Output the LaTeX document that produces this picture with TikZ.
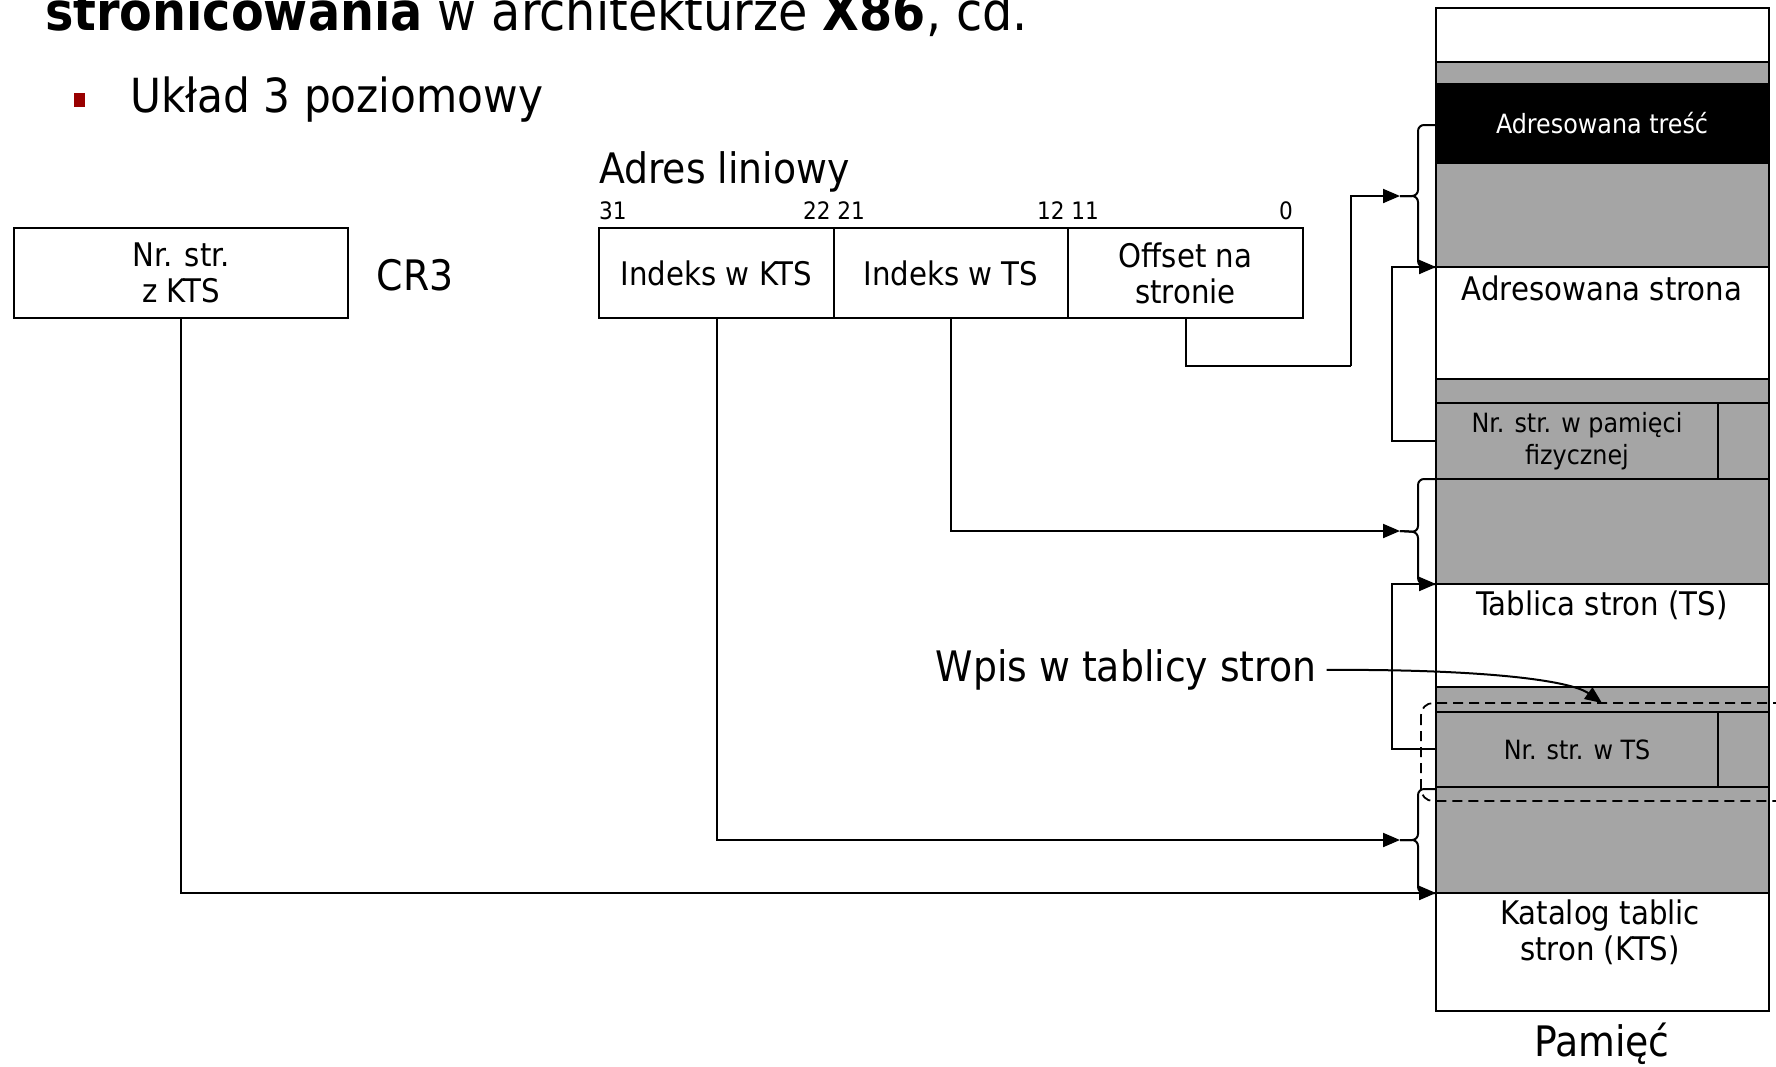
\documentclass[tikz,border=0pt]{standalone}
\usepackage{fontspec}
\setmainfont{DejaVu Sans Condensed}
\usetikzlibrary{arrows.meta}
\definecolor{memgray}{RGB}{165,165,165}
\definecolor{bulletred}{RGB}{153,0,0}
\begin{document}
\begin{tikzpicture}[x=1pt,y=-1pt,
  lbl/.style={inner sep=0pt, font=\fontsize{32.5}{36}\selectfont},
  small/.style={inner sep=0pt, font=\fontsize{26.5}{32}\selectfont},
  big/.style={inner sep=0pt, font=\fontsize{42}{48}\selectfont},
  bits/.style={inner sep=0pt, font=\fontsize{24}{28}\selectfont},
  field/.style={draw, line width=2.2pt, minimum width=234.5pt, minimum height=90pt, align=center},
  memline/.style={draw, line width=2.2pt},
  conn/.style={line width=2pt},
  arr/.style={conn, -{Triangle[length=17pt,width=14pt]}},
  bracestyle/.style={conn, rounded corners=6pt}
]
\useasboundingbox (0,0) rectangle (1776,1066);
\clip (0,0) rectangle (1776,1066);

% title
\node[inner sep=0pt, anchor=base west, font=\fontsize{53}{60}\selectfont] (title) at (45,30)
  {\textbf{stronicowania} w architekturze \textbf{X86}, cd.};
\fill[bulletred] (74,93) rectangle (85,107);
\node[inner sep=0pt, anchor=base west, font=\fontsize{47}{54}\selectfont] (uklad) at (130,112) {Układ 3 poziomowy};

% memory column
\foreach \a/\b/\c in {8/62/white, 62/84/memgray, 84/163/black, 163/267/memgray,
  267/379/white, 379/403/memgray, 403/479/memgray, 479/584/memgray, 584/687/white,
  687/712/memgray, 712/787/memgray, 787/893/memgray, 893/1011/white}
  \draw[memline, fill=\c] (1436,\a) rectangle (1769,\b);
\draw[memline] (1718,403) -- (1718,479);
\draw[memline] (1718,712) -- (1718,787);

\node[small, text=white] (tresc) at (1602,123) {Adresowana treść};
\node[lbl] (strona) at (1602,288) {Adresowana strona};
\node[small, align=center] (nrfiz) at (1577,441) {Nr. str. w pamięci\\fizycznej};
\node[lbl] (tsname) at (1602,605) {Tablica stron (TS)};
\node[small] (nrts) at (1577,750) {Nr. str. w TS};
\node[lbl, align=center] (kts) at (1600,932) {Katalog tablic\\stron (KTS)};
\node[big] (pam) at (1602,1044) {Pamięć};

% dashed entry frame
\draw[line width=1.8pt, dash pattern=on 10pt off 6pt, rounded corners=12pt]
  (1421,703) rectangle (1790,801);

% coordinates on memory
\coordinate (b1tip) at (1400,196);
\coordinate (b2tip) at (1400,531);
\coordinate (b3tip) at (1400,840);
\coordinate (m267) at (1436,267);
\coordinate (m584) at (1436,584);
\coordinate (m893) at (1436,893);
\coordinate (fizl) at (1436,441);
\coordinate (tsl) at (1436,749);
\coordinate (offturn) at (1351,366);
\coordinate (wpistip) at (1602,703);

% braces
\draw[bracestyle] (1436,125) -| (1418,196) -- (b1tip);
\draw[bracestyle] (b1tip) -- (1418,196) |- (m267);
\draw[bracestyle] (1436,479) -| (1418,532) -- (b2tip);
\draw[bracestyle] (b2tip) -- (1418,532) |- (m584);
\draw[bracestyle] (1436,789) -| (1418,840) -- (b3tip);
\draw[bracestyle] (b3tip) -- (1418,840) |- (m893);

% CR3
\node[field, lbl, minimum width=334pt] (cr3) at (181,273) {Nr. str.\\z KTS};
\node[big] (cr3lbl) at (415,275) {CR3};

% linear address
\node[big, anchor=base west] (adres) at (599,183) {Adres liniowy};
\node[field, lbl] (ktsf) at (716.5,273) {Indeks w KTS};
\node[field, lbl] (tsf) at (951,273) {Indeks w TS};
\node[field, lbl] (off) at (1185.5,273) {Offset na\\stronie};
\node[bits, anchor=base west] (b31) at (599,219) {31};
\node[bits, anchor=base] (b22) at (834,219) {22 21};
\node[bits, anchor=base] (b12) at (1068,219) {12 11};
\node[bits, anchor=base east] (b0) at (1293,219) {0};

% connectors
\draw[arr] (cr3.south) |- (m893);
\draw[arr] (ktsf.south) |- (b3tip);
\draw[arr] (tsf.south) |- (b2tip);
\draw[conn] (off.south) |- (offturn);
\draw[arr] (offturn) |- (b1tip);
\draw[conn] (fizl) -- (1392,441) -- (1392,290);
\draw[arr] (1392,441) |- (m267);
\draw[arr] (tsl) -- (1392,749) |- (m584);

% Wpis
\node[big] (wpis) at (1126,670) {Wpis w tablicy stron};
\draw[arr, shorten <=10pt] (wpis.east) .. controls (1480,669) and (1570,680) .. (wpistip);
\end{tikzpicture}
\end{document}
